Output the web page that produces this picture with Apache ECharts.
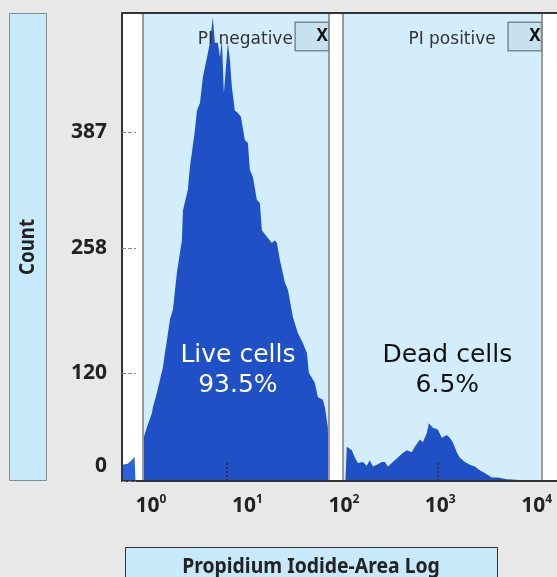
<!DOCTYPE html>
<html>
<head>
<meta charset="utf-8">
<style>
html, body { margin: 0; padding: 0; background: #e8e8e8; }
#chart { width: 557px; height: 577px; }
</style>
<script src="https://cdn.jsdelivr.net/npm/echarts@6/dist/echarts.min.js"></script>
</head>
<body>
<div id="chart"></div>
<script>
// PI-Area histogram, x in log10(PI-Area) units, y = count

// events left of the first gate (not gated)
var ungatedLog = [-0.30, -0.28, -0.24, -0.20, -0.17, -0.16];
var ungatedCount = [18, 18, 19, 23, 27, 0];

// PI negative gate
var liveLog = [-0.078, -0.073, -0.041, 0.010, 0.021, 0.062, 0.093, 0.124, 0.145, 0.166,
    0.197, 0.228, 0.269, 0.321, 0.332, 0.383, 0.404, 0.456, 0.477, 0.508,
    0.539, 0.591, 0.611, 0.642, 0.663, 0.694, 0.715, 0.736, 0.756, 0.798,
    0.819, 0.839, 0.870, 0.902, 0.933, 0.974, 1.005, 1.026, 1.057, 1.098,
    1.130, 1.150, 1.202, 1.254, 1.285, 1.306, 1.337, 1.389, 1.420, 1.472,
    1.523, 1.575, 1.617, 1.637, 1.699, 1.731, 1.782, 1.803, 1.834, 1.845];
var liveCount = [0, 49, 60, 75, 82, 98, 112, 126, 142, 156,
    179, 190, 231, 267, 300, 323, 348, 389, 411, 419,
    448, 475, 486, 514, 486, 486, 470, 489, 430, 486,
    467, 437, 411, 408, 404, 378, 375, 345, 337, 312,
    308, 278, 271, 264, 267, 264, 245, 220, 212, 182,
    164, 153, 142, 120, 109, 93, 90, 82, 60, 0];

// PI positive gate
var deadLog = [2.016, 2.031, 2.083, 2.114, 2.145, 2.197, 2.238, 2.269, 2.301, 2.342,
    2.394, 2.425, 2.456, 2.508, 2.560, 2.611, 2.653, 2.705, 2.736, 2.788,
    2.819, 2.860, 2.881, 2.922, 2.974, 3.016, 3.067, 3.098, 3.130, 3.171,
    3.202, 3.254, 3.306, 3.358, 3.409, 3.461, 3.534, 3.596, 3.689, 3.824, 4.041];
var deadCount = [0, 38, 34, 26, 20, 21, 17, 23, 16, 18,
    21, 21, 16, 21, 26, 31, 34, 32, 38, 46,
    43, 53, 64, 59, 57, 48, 51, 48, 43, 32,
    26, 21, 18, 16, 12, 9, 4, 4, 2, 1, 0];

// gates
var gateNames = ['PI negative', 'PI positive'];
var gateFrom = [-0.083, 1.990];
var gateTo = [1.845, 4.052];
var cellNames = ['Live cells', 'Dead cells'];
var cellPcts = ['93.5%', '6.5%'];
var medianLog = [0.79, 2.97];
var medianMark = 20;

var yTicks = [0, 120, 258, 387];
var decades = [0, 1, 2, 3, 4];

var chart = echarts.init(document.getElementById('chart'));
var bold = "'Noto Sans', sans-serif";
var wide = "'DejaVu Sans', sans-serif";
var boxFill = '#c8e9f9';

function pairs(xs, ys) {
    return xs.map(function (x, i) { return [x, ys[i]]; });
}

var gateFill = [], gateEdges = [], medianLines = [];
for (var i = 0; i < gateNames.length; i++) {
    gateFill.push([{ xAxis: gateFrom[i] }, { xAxis: gateTo[i] }]);
    gateEdges.push({ xAxis: gateFrom[i] }, { xAxis: gateTo[i] });
    medianLines.push([{ coord: [medianLog[i], 0] }, { coord: [medianLog[i], medianMark] }]);
}

var frames = [
    { id: 'countBox', type: 'rect', shape: { x: 9.5, y: 13.5, width: 37, height: 467 }, style: { fill: boxFill, stroke: '#7d8b93', lineWidth: 1 } },
    { id: 'countText', type: 'text', x: 28, y: 247, rotation: Math.PI / 2, scaleX: 0.85,
      style: { text: 'Count', fill: '#222', font: 'bold 22px ' + bold, align: 'center', verticalAlign: 'middle' } },
    { id: 'xBox', type: 'rect', shape: { x: 125.5, y: 547.5, width: 372, height: 40 }, style: { fill: boxFill, stroke: '#333', lineWidth: 1 } },
    { id: 'xText', type: 'text', x: 311, y: 567, scaleX: 0.88,
      style: { text: 'Propidium Iodide-Area Log', fill: '#222', font: 'bold 22px ' + bold, align: 'center', verticalAlign: 'middle' } }
];

var option = {
    backgroundColor: '#e8e8e8',
    animation: false,
    grid: { left: 122, top: 13, right: 0, bottom: 96, show: true, backgroundColor: '#ffffff', borderWidth: 0 },
    xAxis: [{
        type: 'value', min: -0.3, max: 4.21, z: 10,
        axisLine: { onZero: false, lineStyle: { color: '#333', width: 2 } },
        axisTick: { show: false },
        splitLine: { show: false },
        axisLabel: {
            customValues: decades, margin: 13,
            formatter: function (v) { return '{b|10}{s|' + v + '}'; },
            rich: {
                b: { fontFamily: bold, fontWeight: 'bold', fontSize: 21, color: '#222', lineHeight: 24 },
                s: { fontFamily: bold, fontWeight: 'bold', fontSize: 12, color: '#222', lineHeight: 14, verticalAlign: 'top' }
            }
        }
    }, {
        type: 'value', position: 'top', min: -0.3, max: 4.21, z: 10,
        axisLine: { show: true, onZero: false, lineStyle: { color: '#333', width: 2 } },
        axisTick: { show: false }, axisLabel: { show: false }, splitLine: { show: false }
    }],
    yAxis: {
        type: 'value', min: 0, max: 519, z: 10,
        axisLine: { show: true, onZero: false, lineStyle: { color: '#333', width: 2 } },
        axisTick: { show: true, inside: true, length: 14, customValues: yTicks, lineStyle: { color: '#888', type: 'dashed' } },
        splitLine: { show: false },
        axisLabel: {
            customValues: yTicks, margin: 15,
            fontFamily: bold, fontWeight: 'bold', fontSize: 21, color: '#222', lineHeight: 30,
            formatter: function (v) { return v === 0 ? '0\n ' : String(v); }
        }
    },
    series: [{
        name: 'gates', type: 'line', data: [], z: 1, silent: true,
        markArea: { silent: true, itemStyle: { color: '#d3eefa' }, data: gateFill },
        markLine: {
            silent: true, symbol: 'none', label: { show: false },
            lineStyle: { color: '#9a9a9a', width: 2, type: 'solid' },
            data: gateEdges
        }
    }, {
        name: 'ungated', type: 'line', data: pairs(ungatedLog, ungatedCount), z: 2,
        symbol: 'none', lineStyle: { width: 0 }, areaStyle: { color: '#2b62dd', opacity: 1 }
    }, {
        name: 'PI negative', type: 'line', data: pairs(liveLog, liveCount), z: 2,
        symbol: 'none', lineStyle: { width: 0 }, areaStyle: { color: '#1f50c6', opacity: 1 },
        markLine: {
            silent: true, symbol: 'none', label: { show: false },
            lineStyle: { color: '#333', width: 2, type: 'dotted' },
            data: medianLines
        }
    }, {
        name: 'PI positive', type: 'line', data: pairs(deadLog, deadCount), z: 2,
        symbol: 'none', lineStyle: { width: 0 }, areaStyle: { color: '#1f50c6', opacity: 1 }
    }],
    graphic: frames
};

chart.setOption(option);

// gate titles and cell percentages, drawn above the histogram
var gateTexts = [];
for (var k = 0; k < gateNames.length; k++) {
    var left = chart.convertToPixel({ xAxisIndex: 0 }, gateFrom[k]);
    var right = chart.convertToPixel({ xAxisIndex: 0 }, gateTo[k]);
    gateTexts.push({
        id: 'gate' + k, type: 'text', x: right - 1, y: 23, z: 100,
        style: {
            text: '{t|' + gateNames[k] + '}{x|X}', align: 'right', verticalAlign: 'top',
            rich: {
                t: { fontFamily: wide, fontSize: 17, fill: '#333', padding: [6, k === 0 ? 3 : 13, 0, 0] },
                x: {
                    fontFamily: bold, fontWeight: 'bold', fontSize: 17, fill: '#111',
                    backgroundColor: '#c7e2ee', borderColor: '#7c8a90', borderWidth: 1.5,
                    width: 25, height: 27, lineHeight: 27, padding: [0, 0, 0, 7]
                }
            }
        }
    });
    gateTexts.push({
        id: 'cells' + k, type: 'text', x: (left + right) / 2 + (k === 0 ? 2 : 5), y: 370, z: 100,
        style: {
            text: cellNames[k] + '\n' + cellPcts[k], fill: k === 0 ? '#ffffff' : '#111111',
            font: '25px ' + wide, lineHeight: 30, align: 'center', verticalAlign: 'middle'
        }
    });
}
chart.setOption({ graphic: gateTexts });
</script>
</body>
</html>
